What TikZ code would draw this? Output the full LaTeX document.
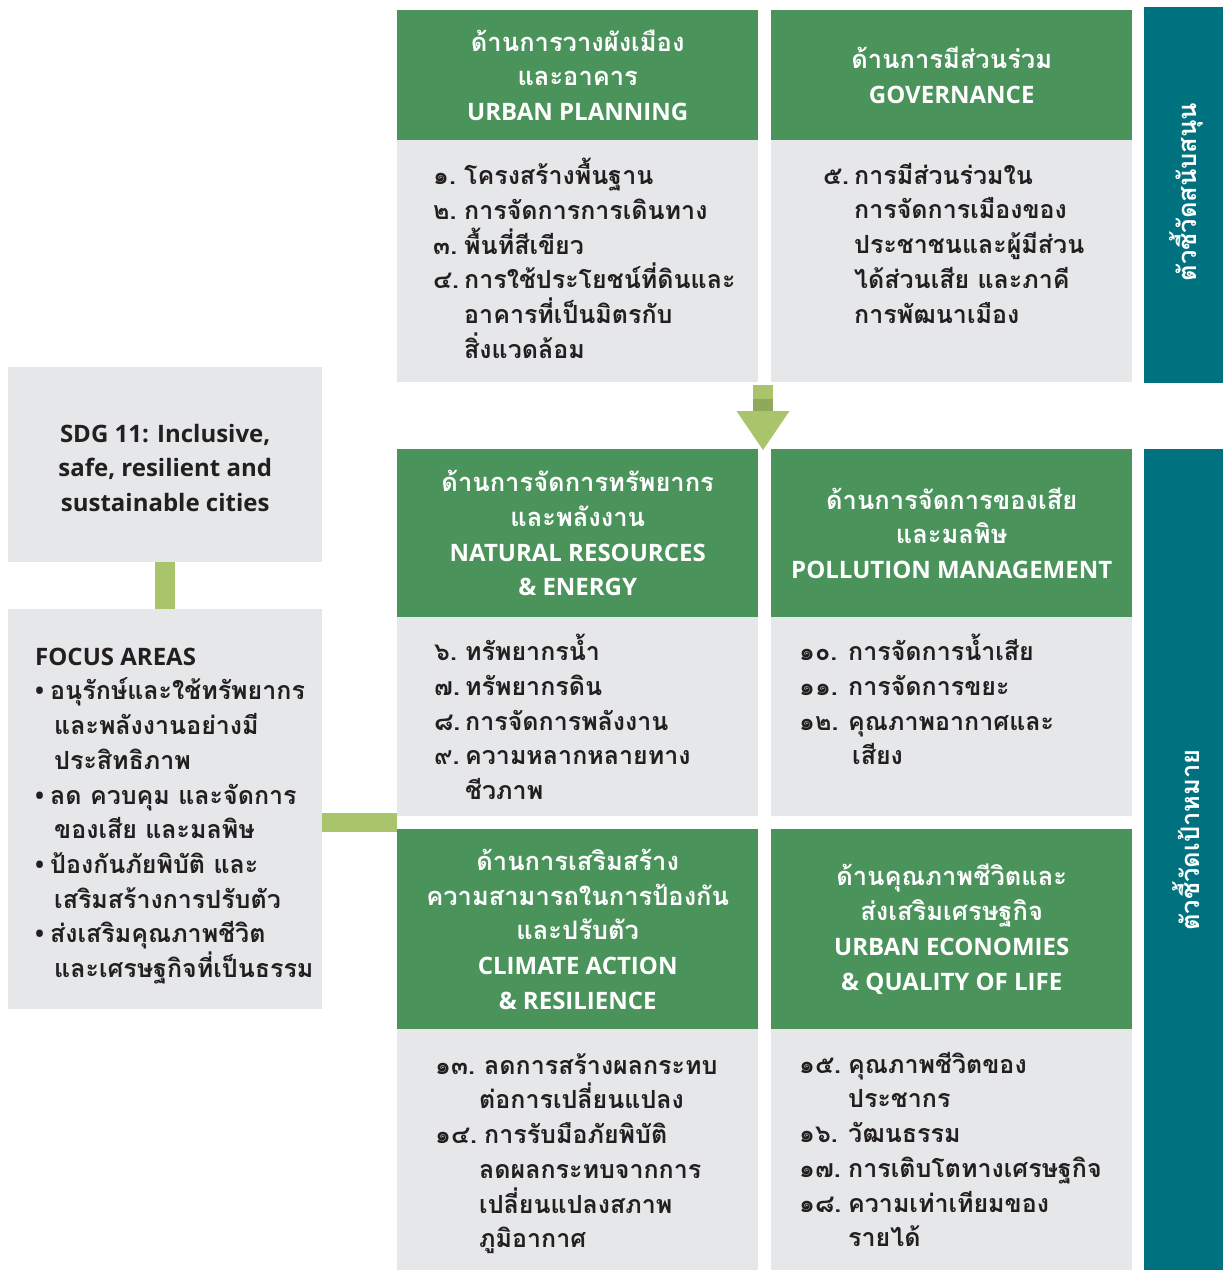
\documentclass[tikz,border=0pt]{standalone}
\usepackage{fontspec}
\setmainfont{Loma}[Script=Thai]
\newfontfamily\latfam{Open Sans}
\definecolor{hgreen}{HTML}{4A935B}
\definecolor{pgray}{HTML}{E6E7E8}
\definecolor{tealbar}{HTML}{00727F}
\definecolor{lgreen}{HTML}{A9C46A}
\definecolor{dgreen}{HTML}{8FA85B}
\definecolor{ink}{HTML}{231F20}
\newcommand\la[1]{{\latfam\fontsize{24}{34.7}\selectfont #1}}
\newcommand\nm[2]{\makebox[#1][l]{#2}}
\newcommand\ind[1]{\hspace*{#1}}
\newcommand\fst{\rule{0pt}{26pt}}
\tikzset{
  hdr/.style={fill=hgreen, inner sep=0pt, anchor=north west, text=white, align=center,
    font=\bfseries\fontsize{25.5}{34.7}\selectfont},
  pbox/.style={fill=pgray, inner sep=0pt, anchor=north west},
  body/.style={anchor=north west, inner sep=0pt, align=left, text=ink,
    font=\bfseries\fontsize{25}{34.7}\selectfont},
  sidebar/.style={fill=tealbar, inner sep=0pt, anchor=north west},
  sidetext/.style={rotate=90, text=white, inner sep=0pt, font=\bfseries\fontsize{25.5}{30}\selectfont},
  conn/.style={draw=lgreen, line width=19.5pt, line cap=butt},
}
\begin{document}
\begin{tikzpicture}[x=1pt,y=-1pt]
\useasboundingbox (0,0) rectangle (1223,1270);
% sidebars
\node[sidebar, minimum width=79pt, minimum height=376pt] (sb1) at (1144,7) {};
\node[sidebar, minimum width=79pt, minimum height=821pt] (sb2) at (1144,449) {};
\node[sidetext] (st1) at (1186,192) {ตัวชี้วัดสนับสนุน};
\node[sidetext] (st2) at (1186,840) {ตัวชี้วัดเป้าหมาย};
% top row
\node[hdr, minimum width=361pt, minimum height=130pt] (h1) at (397,10)
  {ด้านการวางผังเมือง\\และอาคาร\\\la{URBAN PLANNING}};
\node[hdr, minimum width=361pt, minimum height=130pt] (h2) at (771,10)
  {ด้านการมีส่วนร่วม\\\la{GOVERNANCE}};
\node[pbox, minimum width=361pt, minimum height=242pt] (g1) at (397,140) {};
\node[pbox, minimum width=361pt, minimum height=242pt] (g2) at (771,140) {};
\node[body] (b1) at (433,158) {\fst\nm{31pt}{๑.}โครงสร้างพื้นฐาน\\\nm{31pt}{๒.}การจัดการการเดินทาง\\\nm{31pt}{๓.}พื้นที่สีเขียว\\\nm{31pt}{๔.}การใช้ประโยชน์ที่ดินและ\\\ind{31pt}อาคารที่เป็นมิตรกับ\\\ind{31pt}สิ่งแวดล้อม};
\node[body] (b2) at (823,158) {\fst\nm{31pt}{๕.}การมีส่วนร่วมใน\\\ind{31pt}การจัดการเมืองของ\\\ind{31pt}ประชาชนและผู้มีส่วน\\\ind{31pt}ได้ส่วนเสีย และภาคี\\\ind{31pt}การพัฒนาเมือง};
% middle row
\node[hdr, minimum width=361pt, minimum height=168pt] (h3) at (397,449)
  {ด้านการจัดการทรัพยากร\\และพลังงาน\\\la{NATURAL RESOURCES}\\\la{\& ENERGY}};
\node[hdr, minimum width=361pt, minimum height=168pt] (h4) at (771,449)
  {ด้านการจัดการของเสีย\\และมลพิษ\\\la{POLLUTION MANAGEMENT}};
\node[pbox, minimum width=361pt, minimum height=199pt] (g3) at (397,617) {};
\node[pbox, minimum width=361pt, minimum height=199pt] (g4) at (771,617) {};
\node[body] (b3) at (434,634) {\fst\nm{31pt}{๖.}ทรัพยากรน้ำ\\\nm{31pt}{๗.}ทรัพยากรดิน\\\nm{31pt}{๘.}การจัดการพลังงาน\\\nm{31pt}{๙.}ความหลากหลายทาง\\\ind{31pt}ชีวภาพ};
\node[body] (b4) at (799,634) {\fst\nm{49pt}{๑๐.}การจัดการน้ำเสีย\\\nm{49pt}{๑๑.}การจัดการขยะ\\\nm{49pt}{๑๒.}คุณภาพอากาศและ\\\ind{53pt}เสียง};
% bottom row
\node[hdr, minimum width=361pt, minimum height=200pt] (h5) at (397,829)
  {ด้านการเสริมสร้าง\\ความสามารถในการป้องกัน\\และปรับตัว\\\la{CLIMATE ACTION}\\\la{\& RESILIENCE}};
\node[hdr, minimum width=361pt, minimum height=200pt] (h6) at (771,829)
  {ด้านคุณภาพชีวิตและ\\ส่งเสริมเศรษฐกิจ\\\la{URBAN ECONOMIES}\\\la{\& QUALITY OF LIFE}};
\node[pbox, minimum width=361pt, minimum height=241pt] (g5) at (397,1029) {};
\node[pbox, minimum width=361pt, minimum height=241pt] (g6) at (771,1029) {};
\node[body] (b5) at (435,1048) {\fst\nm{49pt}{๑๓.}ลดการสร้างผลกระทบ\\\ind{44pt}ต่อการเปลี่ยนแปลง\\\nm{49pt}{๑๔.}การรับมือภัยพิบัติ\\\ind{44pt}ลดผลกระทบจากการ\\\ind{44pt}เปลี่ยนแปลงสภาพ\\\ind{44pt}ภูมิอากาศ};
\node[body] (b6) at (799,1047) {\fst\nm{49pt}{๑๕.}คุณภาพชีวิตของ\\\ind{49pt}ประชากร\\\nm{49pt}{๑๖.}วัฒนธรรม\\\nm{49pt}{๑๗.}การเติบโตทางเศรษฐกิจ\\\nm{49pt}{๑๘.}ความเท่าเทียมของ\\\ind{49pt}รายได้};
% left column
\node[pbox, minimum width=314pt, minimum height=195pt] (sdg) at (8,367) {};
\node[text=ink, align=center, inner sep=0pt, font=\latfam\bfseries\fontsize{24}{34.7}\selectfont] (sdgt) at ([yshift=-3pt]sdg.center)
  {SDG 11: Inclusive,\\safe, resilient and\\sustainable cities};
\node[pbox, minimum width=314pt, minimum height=400pt] (focus) at (8,609) {};
\node[body] (ft) at (35,639) {\fst\la{FOCUS AREAS}\\\nm{15pt}{\la{•}}อนุรักษ์และใช้ทรัพยากร\\\ind{19pt}และพลังงานอย่างมี\\\ind{19pt}ประสิทธิภาพ\\\nm{15pt}{\la{•}}ลด ควบคุม และจัดการ\\\ind{19pt}ของเสีย และมลพิษ\\\nm{15pt}{\la{•}}ป้องกันภัยพิบัติ และ\\\ind{19pt}เสริมสร้างการปรับตัว\\\nm{15pt}{\la{•}}ส่งเสริมคุณภาพชีวิต\\\ind{19pt}และเศรษฐกิจที่เป็นธรรม};
% connectors
\draw[conn] (sdg.south) -- (focus.north);
\coordinate (hb) at (397,822.5);
\draw[conn] (focus.east |- hb) -- (hb);
% arrow between rows
\coordinate (atip) at (763,450);
\fill[lgreen] (753,385) rectangle (773,411);
\fill[dgreen] (753,399) rectangle (773,411);
\fill[lgreen] (736.5,411) -- (789.5,411) -- (atip) -- cycle;
\end{tikzpicture}
\end{document}
